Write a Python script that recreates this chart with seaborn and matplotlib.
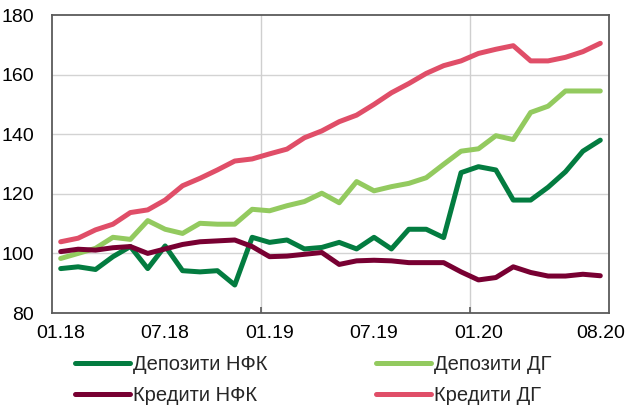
import matplotlib
matplotlib.use("Agg")
import matplotlib.pyplot as plt
import numpy as np
import pandas as pd
import seaborn as sns

# Monthly indices, 01.2018 - 08.2020
months = pd.period_range("2018-01", "2020-08", freq="M").strftime("%m.%y").tolist()

deposits_nfc = [94.9, 95.5, 94.6, 98.9, 102.3, 94.9, 102.5, 94.2, 93.8, 94.2, 89.4, 105.4,
                103.7, 104.5, 101.5, 102.0, 103.7, 101.5, 105.4, 101.5, 108.1, 108.1, 105.3, 127.1,
                129.1, 128.0, 117.9, 117.9, 122.2, 127.4, 134.3, 138.0]
deposits_hh = [98.3, 100.0, 101.7, 105.4, 104.7, 111.0, 108.1, 106.7, 110.1, 109.8, 109.8, 114.8,
               114.3, 116.0, 117.4, 120.2, 117.0, 124.1, 121.0, 122.4, 123.5, 125.4, 129.9, 134.3,
               135.1, 139.5, 138.2, 147.3, 149.4, 154.5, 154.5, 154.5]
loans_nfc = [100.6, 101.4, 101.1, 101.9, 102.3, 100.0, 101.5, 103.0, 103.9, 104.2, 104.5, 102.3,
             98.9, 99.1, 99.7, 100.3, 96.3, 97.5, 97.7, 97.5, 96.9, 96.9, 96.9, 93.8,
             91.1, 91.9, 95.5, 93.6, 92.4, 92.4, 93.0, 92.5]
loans_hh = [103.9, 105.1, 107.9, 109.8, 113.7, 114.6, 117.9, 122.7, 125.2, 128.0, 131.0, 131.7,
            133.4, 135.0, 138.8, 141.1, 144.2, 146.4, 150.0, 153.9, 157.0, 160.4, 163.0, 164.6,
            167.1, 168.5, 169.7, 164.6, 164.6, 165.8, 167.7, 170.5]

series_names = ["Депозити НФК", "Депозити ДГ", "Кредити НФК", "Кредити ДГ"]
series_values = [deposits_nfc, deposits_hh, loans_nfc, loans_hh]
colors = ["#037C40", "#93CA5F", "#780032", "#E04E68"]

tick_labels = ["01.18", "07.18", "01.19", "07.19", "01.20", "08.20"]
tick_pos = [months.index(t) for t in tick_labels]

df = pd.concat(
    [pd.DataFrame({"idx": range(len(months)), "month": months, "value": v, "series": n})
     for n, v in zip(series_names, series_values)],
    ignore_index=True,
)

sns.set_theme(style="white")
plt.rcParams["font.family"] = ["Liberation Sans", "DejaVu Sans"]

fig = plt.figure(figsize=(6.27, 4.07), dpi=100)
ax = fig.add_axes([52 / 627, 1 - 313 / 407, 557 / 627, 298 / 407])

sns.lineplot(data=df, x="idx", y="value", hue="series", hue_order=series_names,
             palette=colors, linewidth=3.6, sort=False, ax=ax, legend=False)

ax.set_xlim(-0.5, len(months) - 0.5)
ax.set_ylim(80, 180)
ax.set_yticks(range(80, 181, 20))
ax.set_xticks(tick_pos)
ax.set_xticklabels(tick_labels)
ax.set_xticks([11.5, 23.5], minor=True)
ax.set_xlabel("")
ax.set_ylabel("")

ax.grid(False)
for y in range(100, 180, 20):
    ax.axhline(y, color="#D3D3D3", linewidth=1.0, zorder=0)
for x in [11.5, 23.5]:
    ax.axvline(x, color="#CFCFCF", linewidth=1.0, zorder=0)

for s in ax.spines.values():
    s.set_color("#5A5A5A")
    s.set_linewidth(1.3)

ax.tick_params(axis="y", which="major", direction="in", length=4, width=1.2,
               color="#5A5A5A", labelsize=14, pad=13, labelcolor="black")
ax.tick_params(axis="x", which="major", length=0, labelsize=14, pad=9, labelcolor="black")
ax.tick_params(axis="x", which="minor", direction="in", length=4, width=1.2,
               color="#5A5A5A", bottom=True)

# Legend: two columns, deposits in the first row, loans in the second
handles = [plt.Line2D([], [], color=c, linewidth=3.6) for c in colors]
order = [0, 2, 1, 3]
fig.legend([handles[i] for i in order], [series_names[i] for i in order],
           ncol=2, loc="upper left", bbox_to_anchor=(75 / 627, 1 - 355 / 407),
           frameon=False, fontsize=14.5, handlelength=2.73, handletextpad=0.15,
           columnspacing=5.4, labelspacing=0.6, borderaxespad=0, borderpad=0)

fig.savefig("out.png", dpi=100)
